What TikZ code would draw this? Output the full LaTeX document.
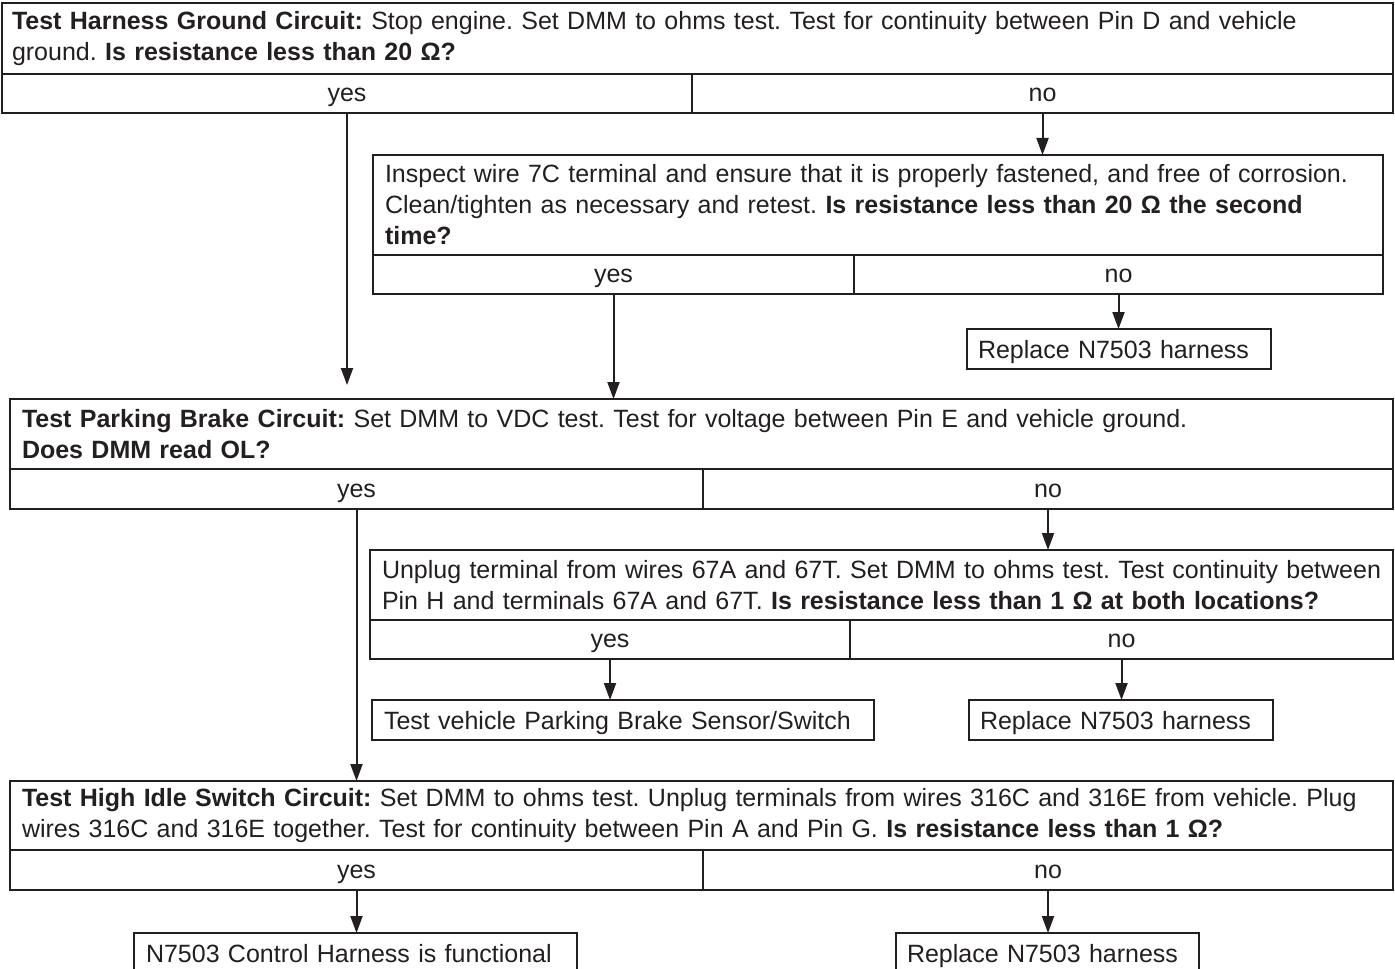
\documentclass[tikz,border=0pt]{standalone}
\usepackage{fontspec}
\setmainfont{Liberation Sans}
\usepackage{xcolor}
\usetikzlibrary{arrows.meta, positioning}
\definecolor{ink}{HTML}{231F20}
\frenchspacing

\begin{document}
\begin{tikzpicture}[x=0.5pt, y=-0.5pt, font=\fontsize{12.5}{15.5}\selectfont,
  every node/.style={text=ink},
  box/.style={draw=ink, line width=1.1pt, inner ysep=0pt, inner xsep=6pt, outer sep=0pt, anchor=north west, align=left},
  ans/.style={box, minimum height=19.5pt, align=center, text height=10pt, text depth=2pt},
  leaf/.style={box, minimum height=20pt, text height=10.5pt, text depth=1.5pt},
  arr/.style={draw=ink, line width=1pt, -{Triangle[length=8.5pt,width=6pt]}}]

  \useasboundingbox (0,0) rectangle (1395,968);

  % Harness ground circuit
  \node[box, inner xsep=5pt, minimum width=695.5pt, minimum height=35.5pt, text width=685.5pt] (gnd) at (2,3)
    {\textbf{Test Harness Ground Circuit:} Stop engine. Set DMM to ohms test. Test for continuity between Pin D and vehicle\\
     ground. \textbf{Is resistance less than 20 Ω?}};
  \node[ans, minimum width=345pt] (gndyes) at (gnd.south west) {yes};
  \node[ans, minimum width=350.5pt] (gndno) at (gndyes.north east) {no};

  % Wire 7C terminal
  \node[box, minimum width=505pt, minimum height=50pt, text width=493pt] (wire) at (373,155)
    {Inspect wire 7C terminal and ensure that it is properly fastened, and free of corrosion.\\
     Clean/tighten as necessary and retest. \textbf{Is resistance less than 20 Ω the second}\\
     \textbf{time?}};
  \node[ans, minimum width=240.5pt] (wireyes) at (wire.south west) {yes};
  \node[ans, minimum width=264.5pt] (wireno) at (wireyes.north east) {no};
  \node[leaf, inner xsep=5.5pt, minimum width=152pt, text width=141pt] (rep1) at (967,329) {Replace N7503 harness};

  % Parking brake circuit
  \node[box, minimum width=691.5pt, minimum height=35pt, text width=679.5pt] (brake) at (10,399)
    {\textbf{Test Parking Brake Circuit:} Set DMM to VDC test. Test for voltage between Pin E and vehicle ground.\\
     \textbf{Does DMM read OL?}};
  \node[ans, minimum width=346.5pt, minimum height=20pt] (brakeyes) at (brake.south west) {yes};
  \node[ans, minimum width=345pt, minimum height=20pt] (brakeno) at (brakeyes.north east) {no};

  % Terminals 67A / 67T
  \node[box, minimum width=511.5pt, minimum height=35pt, text width=499.5pt] (plug) at (370,550)
    {\mbox{Unplug terminal from wires 67A and 67T. Set DMM to ohms test. Test continuity between}\\
     Pin H and terminals 67A and 67T. \textbf{Is resistance less than 1 Ω at both locations?}};
  \node[ans, minimum width=240pt] (plugyes) at (plug.south west) {yes};
  \node[ans, minimum width=271.5pt] (plugno) at (plugyes.north east) {no};
  \node[leaf, minimum width=251pt, text width=239pt] (sensor) at (372,700) {Test vehicle Parking Brake Sensor/Switch};
  \node[leaf, inner xsep=5.5pt, minimum width=152pt, text width=141pt] (rep2) at (969,700) {Replace N7503 harness};

  % High idle switch circuit
  \node[box, minimum width=691.5pt, minimum height=34.5pt, text width=679.5pt] (idle) at (10,781)
    {\textbf{Test High Idle Switch Circuit:} Set DMM to ohms test. Unplug terminals from wires 316C and 316E from vehicle. Plug\\
     wires 316C and 316E together. Test for continuity between Pin A and Pin G. \textbf{Is resistance less than 1 Ω?}};
  \node[ans, minimum width=346.5pt, minimum height=20pt] (idleyes) at (idle.south west) {yes};
  \node[ans, minimum width=345pt, minimum height=20pt] (idleno) at (idleyes.north east) {no};
  \node[leaf, minimum width=221.5pt, text width=209.5pt] (works) at (134,933) {N7503 Control Harness is functional};
  \node[leaf, inner xsep=5.5pt, minimum width=151.5pt, text width=140.5pt] (rep3) at (896,933) {Replace N7503 harness};

  % connectors
  \draw[arr, shorten >=7pt] (gndyes.south) -- (gndyes.south |- brake.north);
  \draw[arr] (gndno.south) -- (gndno.south |- wire.north);
  \draw[arr] (wireyes.south) -- (wireyes.south |- brake.north);
  \draw[arr] (wireno.south) -- (wireno.south |- rep1.north);
  \draw[arr] (brakeyes.south) -- (brakeyes.south |- idle.north);
  \draw[arr] (brakeno.south) -- (brakeno.south |- plug.north);
  \draw[arr] (plugyes.south) -- (plugyes.south |- sensor.north);
  \draw[arr] (plugno.south) -- (plugno.south |- rep2.north);
  \draw[arr] (idleyes.south) -- (idleyes.south |- works.north);
  \draw[arr] (idleno.south) -- (idleno.south |- rep3.north);
\end{tikzpicture}
\end{document}
